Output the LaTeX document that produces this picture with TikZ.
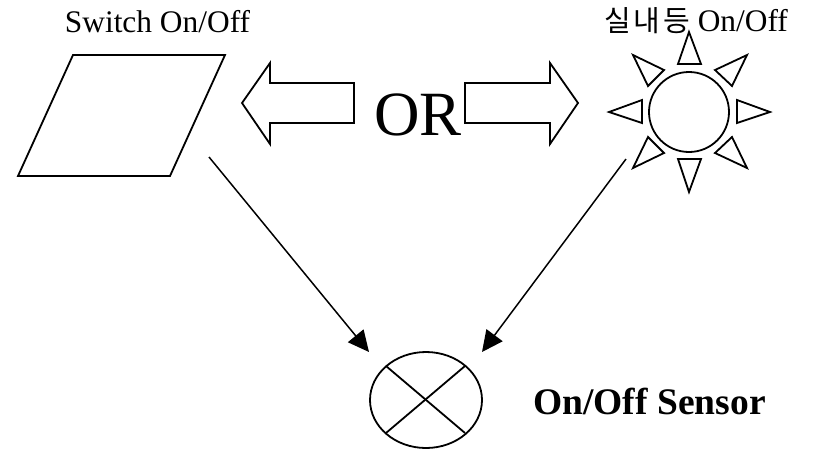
\documentclass[tikz,border=0pt]{standalone}
\usepackage{fontspec}
\setmainfont{Liberation Serif}
\newfontfamily\cjk[LetterSpace=10]{Noto Sans CJK KR}
\usetikzlibrary{arrows.meta,shapes.geometric}
\tikzset{
  shp/.style={draw=black,line width=1.8pt,line join=miter},
  link/.style={draw=black,line width=1.5pt,-{Triangle[length=21pt,width=20pt]}},
  lbl/.style={inner sep=0pt,anchor=base,text=black},
}
\begin{document}
\begin{tikzpicture}[x=1pt,y=-1pt]
\useasboundingbox (0,0) rectangle (814,451);
\fill[white] (0,0) rectangle (814,451);
% parallelogram
\draw[shp] (73,55) -- (225,55) -- (170,176) -- (18,176) -- cycle;
% block arrows
\draw[shp] (242,103) -- (270,63) -- (270,83) -- (354,83) -- (354,123) -- (270,123) -- (270,144) -- cycle;
\draw[shp] (578,103) -- (550,63) -- (550,83) -- (465,83) -- (465,123) -- (550,123) -- (550,144) -- cycle;
% sun
\node[shp,circle,minimum size=80pt,inner sep=0pt] (sun) at (689,112) {};
\draw[shp] (689,32) -- (678,64) -- (701,64) -- cycle;
\draw[shp] (689,192) -- (678,159) -- (701,159) -- cycle;
\draw[shp] (609,112) -- (642,100) -- (642,123) -- cycle;
\draw[shp] (770,112) -- (737,100) -- (737,123) -- cycle;
\draw[shp] (633,55) -- (664,70) -- (648,86) -- cycle;
\draw[shp] (747,55) -- (715,70) -- (732,86) -- cycle;
\draw[shp] (633,168) -- (664,153) -- (648,137) -- cycle;
\draw[shp] (747,168) -- (715,153) -- (732,137) -- cycle;
% sensor
\node[shp,ellipse,minimum width=112pt,minimum height=96pt,inner sep=0pt] (sensor) at (426,400) {};
\coordinate (c1) at (386,366);
\coordinate (c2) at (465,366);
\coordinate (c3) at (386,433);
\coordinate (c4) at (465,433);
\draw[shp] (c1) -- (c4);
\draw[shp] (c2) -- (c3);
% connectors
\coordinate (swout) at (209,157);
\coordinate (swin) at (369,352);
\coordinate (sunout) at (626,159);
\coordinate (sunin) at (482,352);
\draw[link] (swout) -- (swin);
\draw[link] (sunout) -- (sunin);
% labels
\node[lbl,font=\fontsize{31.4}{36}\selectfont] (t1) at (157.5,32) {Switch On/Off};
\node[lbl,font=\fontsize{31.4}{36}\selectfont] (t2) at (696,31) {{\cjk\fontsize{29}{36}\selectfont 실내등} On/Off};
\node[lbl,font=\fontsize{63}{70}\selectfont] (or) at (418,135) {OR};
\node[lbl,font=\bfseries\fontsize{37.5}{42}\selectfont] (t3) at (649.5,414) {On/Off Sensor};
\end{tikzpicture}
\end{document}
